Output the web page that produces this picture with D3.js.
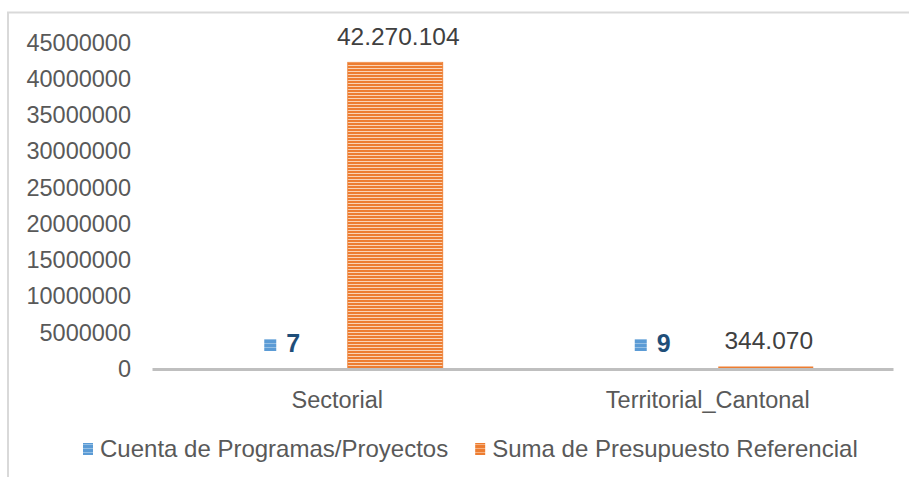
<!DOCTYPE html>
<html>
<head>
<meta charset="utf-8">
<script src="https://cdn.jsdelivr.net/npm/d3@7"></script>
<style>
  body { margin: 0; background: #fff; }
  svg text { font-family: "Liberation Sans", Arial, sans-serif; }
</style>
</head>
<body>
<div id="chart"></div>
<script>
// chart data
const categories = ['Sectorial', 'Territorial_Cantonal'];
const seriesNames = ['Cuenta de Programas/Proyectos', 'Suma de Presupuesto Referencial'];
const cuentaValues = [7, 9];
const sumaValues = [42270104, 344070];
const yTicks = [0, 5000000, 10000000, 15000000, 20000000, 25000000, 30000000, 35000000, 40000000, 45000000];

const width = 909, height = 477;
const colors = ['#5B9BD5', '#ED7D31'];
const stripes = ['#BDD7EE', '#FAD3B5'];

const svg = d3.select('#chart').append('svg')
    .attr('width', width)
    .attr('height', height);

// striped fills like the original
const defs = svg.append('defs');
colors.forEach((c, i) => {
    const p = defs.append('pattern')
        .attr('id', 'stripe' + i)
        .attr('patternUnits', 'userSpaceOnUse')
        .attr('width', 6)
        .attr('height', 3);
    p.append('rect').attr('width', 6).attr('height', 3).attr('fill', c);
    p.append('rect').attr('y', 2).attr('width', 6).attr('height', 1).attr('fill', stripes[i]);

    // denser version for the small keys
    const k = defs.append('pattern')
        .attr('id', 'key' + i)
        .attr('patternUnits', 'userSpaceOnUse')
        .attr('width', 6)
        .attr('height', 4);
    k.append('rect').attr('width', 6).attr('height', 4).attr('fill', c);
    k.append('rect').attr('y', 3).attr('width', 6).attr('height', 1).attr('fill', stripes[i]).attr('opacity', 0.6);
});

// outer frame (top and left visible)
svg.append('path')
    .attr('d', `M8,${height} L8,12.5 L${width},12.5`)
    .attr('fill', 'none')
    .attr('stroke', '#d9d9d9')
    .attr('stroke-width', 2);

const x0 = d3.scaleBand()
    .domain(categories)
    .range([152, 893])
    .padding(0);

const x1 = d3.scaleBand()
    .domain([0, 1])
    .range([-105.5, 105.5])
    .paddingInner(0.181)
    .paddingOuter(0);

const y = d3.scaleLinear()
    .domain([0, 45000000])
    .range([369, 42.5]);

// y axis labels
const yAxis = svg.append('g')
    .attr('transform', 'translate(131,0)')
    .call(d3.axisLeft(y).tickValues(yTicks).tickSize(0).tickPadding(0).tickFormat(d3.format('d')));
yAxis.select('.domain').remove();
yAxis.selectAll('text')
    .attr('fill', '#595959')
    .style('font-size', '23.5px');

// bars
const rows = categories.map((c, i) => ({ cat: c, vals: [cuentaValues[i], sumaValues[i]] }));
const groups = svg.selectAll('.grp')
    .data(rows)
    .enter()
    .append('g')
    .attr('class', 'grp')
    .attr('transform', d => `translate(${x0(d.cat) + x0.bandwidth() / 2},0)`);

groups.selectAll('rect')
    .data(d => d.vals.map((v, s) => ({ v, s })))
    .enter()
    .append('rect')
    .attr('x', d => x1(d.s))
    .attr('y', d => y(d.v))
    .attr('width', x1.bandwidth())
    .attr('height', d => y(0) - y(d.v))
    .attr('fill', d => 'url(#stripe' + d.s + ')')
    .attr('stroke', d => (y(0) - y(d.v)) > 5 ? colors[d.s] : 'none')
    .attr('stroke-width', 0.8);

// x axis, on top of the bars
const xAxis = svg.append('g')
    .attr('transform', 'translate(0,369)')
    .call(d3.axisBottom(x0).tickSize(0).tickPadding(22));
xAxis.select('.domain')
    .attr('stroke', '#bfbfbf')
    .attr('stroke-width', 3);
xAxis.selectAll('text')
    .attr('fill', '#595959')
    .style('font-size', '23.5px');

// labels for the budget series
const fmt = d3.formatLocale({ decimal: ',', thousands: '.', grouping: [3], currency: ['$', ''] }).format(',d');
groups.append('text')
    .attr('x', d => x1(1) + x1.bandwidth() / 2 + 3)
    .attr('y', d => y(d.vals[1]) - 17.5)
    .attr('text-anchor', 'middle')
    .attr('fill', '#404040')
    .style('font-size', '24.5px')
    .text(d => fmt(d.vals[1]));

// labels for the count series, with legend key
const cLab = groups.append('g')
    .attr('transform', d => `translate(${x1(0) + x1.bandwidth() / 2},${y(d.vals[0]) - 17})`);
cLab.append('rect')
    .attr('x', -15)
    .attr('y', -13)
    .attr('width', 12)
    .attr('height', 12)
    .attr('fill', 'url(#key0)');
cLab.append('text')
    .attr('x', 7)
    .attr('fill', '#1F4E79')
    .style('font-size', '25px')
    .style('font-weight', 'bold')
    .text(d => d.vals[0]);

// legend
const legend = svg.append('g').attr('transform', 'translate(83,457)');
let lx = 0;
seriesNames.forEach((name, i) => {
    const item = legend.append('g').attr('transform', `translate(${lx},0)`);
    item.append('rect')
        .attr('y', -14)
        .attr('width', 10)
        .attr('height', 12)
        .attr('fill', 'url(#key' + i + ')');
    const t = item.append('text')
        .attr('x', 17)
        .attr('fill', '#595959')
        .style('font-size', '24px')
        .text(name);
    lx += 17 + t.node().getComputedTextLength() + 27;
});
</script>
</body>
</html>
